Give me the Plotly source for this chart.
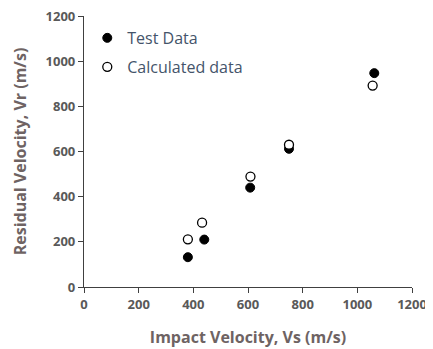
import plotly.graph_objects as go

test_vs = [380, 440, 608, 750, 1062]
test_vr = [132, 210, 440, 612, 947]
calc_vs = [380, 432, 609, 750, 1056]
calc_vr = [211, 285, 489, 630, 892]

x_ticks = [0, 200, 400, 600, 800, 1000, 1200]
y_ticks = [0, 200, 400, 600, 800, 1000, 1200]

FONT = "Open Sans, Liberation Sans, sans-serif"

fig = go.Figure()
fig.add_trace(go.Scatter(x=test_vs, y=test_vr, mode="markers", name="Test Data",
                         legend="legend",
                         marker=dict(symbol="circle", size=9, color="black",
                                     line=dict(color="black", width=1))))
fig.add_trace(go.Scatter(x=calc_vs, y=calc_vr, mode="markers", name="Calculated data",
                         legend="legend2",
                         marker=dict(symbol="circle", size=9, color="white",
                                     line=dict(color="black", width=1.3))))

tick_font = dict(family=FONT, size=13, color="#595959")
title_font = dict(family=FONT, size=16, color="#6e6363")
leg_font = dict(family=FONT, size=16, color="#44546A")

# page body adds an 8px margin, so the figure is 8px smaller than the window
fig.update_layout(
    width=425, height=341,
    margin=dict(l=76, r=21, t=8, b=62, autoexpand=False),
    paper_bgcolor="white", plot_bgcolor="white",
    showlegend=True,
    legend=dict(x=0.01, y=0.919, xanchor="left", yanchor="middle", font=leg_font,
                bgcolor="rgba(0,0,0,0)", itemwidth=30),
    legend2=dict(x=0.01, y=0.812, xanchor="left", yanchor="middle", font=leg_font,
                 bgcolor="rgba(0,0,0,0)", itemwidth=30),
)
fig.update_xaxes(range=[0, 1200], tickvals=x_ticks, ticktext=[f"<b>{v}</b>" for v in x_ticks],
                 showgrid=False, zeroline=False, showline=True, linecolor="#404040", linewidth=1.2,
                 ticks="outside", ticklen=5, tickcolor="#404040", automargin=False,
                 tickfont=tick_font, ticklabeloverflow="allow",
                 title=dict(text="<b>Impact Velocity, Vs (m/s)</b>", font=title_font, standoff=20))
fig.update_yaxes(range=[0, 1200], tickvals=y_ticks, ticktext=[f"<b>{v}</b>" for v in y_ticks],
                 showgrid=False, zeroline=False, showline=True, linecolor="#404040", linewidth=1.2,
                 ticks="outside", ticklen=5, tickcolor="#404040", automargin=False,
                 tickfont=tick_font, ticklabeloverflow="allow",
                 title=dict(text="<b>Residual Velocity, Vr (m/s)</b>", font=title_font, standoff=14))

fig.write_html("out.html")
